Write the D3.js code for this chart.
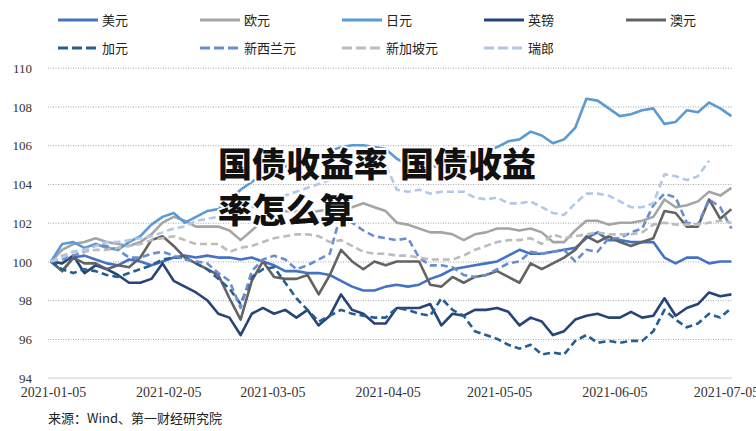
<!DOCTYPE html>
<html><head><meta charset="utf-8">
<script src="https://cdn.jsdelivr.net/npm/d3@7"></script>
<style>html,body{margin:0;padding:0;background:#fff;overflow:hidden}</style>
</head><body>
<svg id="chart" width="756" height="431"></svg>
<script>
const dates = ["2021-01-05","2021-01-08","2021-01-11","2021-01-14","2021-01-17","2021-01-20","2021-01-23","2021-01-26","2021-01-29","2021-02-01","2021-02-04","2021-02-07","2021-02-10","2021-02-13","2021-02-16","2021-02-19","2021-02-22","2021-02-25","2021-02-28","2021-03-03","2021-03-06","2021-03-09","2021-03-12","2021-03-15","2021-03-18","2021-03-21","2021-03-24","2021-03-27","2021-03-30","2021-04-02","2021-04-05","2021-04-08","2021-04-11","2021-04-14","2021-04-17","2021-04-20","2021-04-23","2021-04-26","2021-04-29","2021-05-02","2021-05-05","2021-05-08","2021-05-11","2021-05-14","2021-05-17","2021-05-20","2021-05-23","2021-05-26","2021-05-29","2021-06-01","2021-06-04","2021-06-07","2021-06-10","2021-06-13","2021-06-16","2021-06-19","2021-06-22","2021-06-25","2021-06-28","2021-07-01","2021-07-04","2021-07-07"];

const usd = [100.0,99.5,100.2,100.3,100.1,99.9,99.8,100.1,100.0,99.8, 100.0,100.2,100.3,100.2,100.3,100.2,100.2,100.1,100.2,100.0, 99.8,99.5,99.5,99.4,99.4,99.3,99.0,98.7,98.5,98.5, 98.7,98.8,98.7,98.8,99.1,99.3,99.6,99.7,99.8,99.9, 100.0,100.3,100.6,100.4,100.4,100.5,100.6,100.7,101.2,101.5, 101.1,101.1,101.0,101.0,101.0,100.2,99.9,100.2,100.2,99.9, 100.0,100.0];
const eur = [100.0,100.6,100.9,101.0,101.2,101.0,100.9,100.8,101.0,101.4, 102.0,102.3,102.1,101.8,101.8,101.8,101.6,101.1,101.6,102.1, 102.4,102.6,102.6,102.5,102.6,102.7,102.7,102.8,103.0,102.8, 102.6,102.0,101.9,101.7,101.5,101.5,101.4,101.1,101.4,101.5, 101.7,101.7,101.6,101.7,101.5,101.0,101.0,101.6,102.1,102.1, 101.9,102.0,102.0,102.1,102.3,103.2,102.8,102.9,103.1,103.6, 103.4,103.8];
const jpy = [100.0,100.9,101.0,100.7,100.9,100.7,100.6,101.0,101.3,101.9, 102.3,102.5,102.0,102.3,102.6,102.7,103.2,103.7,104.1,104.5, 104.7,104.9,105.1,105.3,105.4,105.7,105.9,106.0,106.0,105.9, 105.8,105.3,105.0,104.9,104.9,104.9,105.1,105.3,105.5,105.7, 105.9,106.2,106.3,106.7,106.5,106.1,106.3,106.9,108.4,108.3, 107.9,107.5,107.6,107.8,107.9,107.1,107.2,107.8,107.7,108.2, 107.9,107.5];
const gbp = [100.0,99.9,100.3,99.4,99.8,99.6,99.3,98.9,98.9,99.1, 99.9,99.0,98.7,98.4,98.0,97.3,97.1,96.2,97.3,97.6, 97.3,97.5,97.1,97.5,96.7,97.2,98.3,97.5,97.3,96.8, 96.8,97.6,97.6,97.6,97.8,96.7,97.3,97.2,97.5,97.5, 97.6,97.4,96.7,97.1,96.9,96.2,96.4,97.0,97.2,97.3, 97.1,97.1,97.4,97.1,97.2,98.1,97.2,97.6,97.8,98.4, 98.2,98.3];
const aud = [100.0,99.5,100.2,99.9,99.9,99.6,99.8,99.7,100.2,101.1, 101.3,100.8,100.2,99.9,99.6,99.3,98.1,97.0,99.0,100.0, 99.2,99.1,99.1,99.3,98.3,99.3,100.6,100.0,99.6,100.0, 99.8,100.0,100.0,100.0,98.8,98.7,99.2,98.9,99.2,99.3, 99.5,99.2,98.9,99.9,99.6,99.9,100.2,100.6,101.3,101.0, 101.3,101.0,100.8,101.0,101.2,102.6,102.5,101.8,101.8,103.2, 102.2,102.7];
const cad = [100.0,99.6,99.4,99.6,99.5,99.3,99.2,99.4,99.6,99.8, 100.1,100.2,100.2,99.9,99.6,99.1,98.6,97.8,99.2,99.6, 99.7,98.9,98.1,97.5,96.9,97.2,97.5,97.3,97.2,97.1, 97.1,97.6,97.5,97.3,97.2,98.1,97.5,97.2,96.4,96.2, 96.0,95.7,95.5,95.7,95.2,95.3,95.2,95.9,96.2,95.8, 95.9,95.8,95.9,95.9,96.4,97.5,97.0,96.6,96.8,97.3, 97.1,97.6];
const nzd = [100.0,100.1,100.3,100.5,100.9,100.8,100.6,100.2,100.2,100.4, 100.5,100.3,100.1,100.0,99.9,99.4,99.0,97.6,99.5,100.1, 100.3,100.1,99.6,99.8,100.1,100.4,102.5,102.0,101.6,101.3, 101.2,101.1,101.2,100.2,99.8,99.8,99.7,99.3,99.2,99.3, 99.6,99.9,100.0,100.5,100.4,100.5,100.6,100.0,100.6,100.5, 101.2,101.2,101.5,101.7,102.9,103.5,103.3,102.0,101.9,103.2, 102.8,101.7];
const sgd = [100.0,100.3,100.5,100.5,100.6,100.6,100.7,100.8,100.9,101.1, 101.2,101.3,101.1,100.9,100.9,100.9,100.5,100.7,100.8,101.0, 101.2,101.3,101.4,101.4,101.3,101.0,101.1,100.8,100.5,100.4, 100.4,100.3,100.3,100.2,100.1,100.1,100.1,100.3,100.6,100.8, 101.0,101.1,101.1,101.2,100.9,101.4,101.2,101.3,101.4,101.5, 101.4,101.4,101.4,101.5,101.9,102.0,101.9,101.9,101.9,102.0, 102.1,102.0];
const chf = [100.0,100.2,100.5,100.6,100.8,101.0,101.0,101.1,101.2,101.3, 101.5,101.7,101.8,102.1,102.2,102.3,102.4,102.6,102.8,103.0, 103.2,103.4,103.6,103.8,104.0,104.2,104.4,104.6,104.8,104.9, 105.0,103.7,103.6,103.7,103.5,103.6,103.6,103.6,103.3,103.2, 103.3,103.0,103.0,103.1,102.8,102.5,102.4,103.0,103.5,103.5, 103.4,103.1,102.8,102.8,103.0,104.5,104.4,104.2,104.4,105.2, null,null];

const seriesNames = ["美元","欧元","日元","英镑","澳元","加元","新西兰元","新加坡元","瑞郎"];
const seriesValues = [usd, eur, jpy, gbp, aud, cad, nzd, sgd, chf];
const seriesColors = ["#4472c4","#a5a5a5","#5b9bd5","#264478","#636363","#255e91","#698ed0","#bcbcbc","#b4c7e7"];
const seriesDashed = [false,false,false,false,false,true,true,true,true];

const yTicks = [94,96,98,100,102,104,106,108,110];
const xTicks = ["2021-01-05","2021-02-05","2021-03-05","2021-04-05","2021-05-05","2021-06-05","2021-07-05"];
const title1a = "国债收益率", title1b = "国债收益", title2 = "率怎么算";
const sourceText = "来源：Wind、第一财经研究院";

const parse = d3.timeParse("%Y-%m-%d");
const svg = d3.select("#chart");
const x = d3.scaleTime().domain([parse("2021-01-05"), parse("2021-07-07")]).range([51, 731.4]);
const y = d3.scaleLinear().domain([94, 110]).range([377.7, 67.7]);
const gridL = 48, gridR = 732;

// grid
svg.append("g").selectAll("line").data(yTicks.filter(t => t !== 94)).join("line")
  .attr("x1", gridL).attr("x2", gridR)
  .attr("y1", d => y(d) + 0.5).attr("y2", d => y(d) + 0.5)
  .attr("stroke", "#a6a6a6").attr("stroke-width", 1).attr("stroke-dasharray", "1,1.5");
svg.append("line").attr("x1", gridL).attr("x2", gridR)
  .attr("y1", y(94) + 0.5).attr("y2", y(94) + 0.5).attr("stroke", "#d9d9d9").attr("stroke-width", 1.2);

// y axis labels
const yAxis = d3.axisLeft(y).tickValues(yTicks).tickSize(0).tickPadding(0);
const gy = svg.append("g").attr("transform", "translate(32,0)").call(yAxis);
gy.select(".domain").remove();
gy.selectAll("text").attr("font-family", "'Liberation Serif', serif").attr("font-size", 13).attr("fill", "#333").attr("dy", "0.35em");

// x axis labels
const xAxis = d3.axisBottom(x).tickValues(xTicks.map(parse)).tickFormat(d3.timeFormat("%Y-%m-%d")).tickSize(0).tickPadding(0);
const gx = svg.append("g").attr("transform", "translate(2,392)").call(xAxis);
gx.select(".domain").remove();
gx.selectAll("text").attr("font-family", "'Liberation Serif', serif").attr("font-size", 14).attr("fill", "#333").attr("dy", "0.35em");

// lines
const line = d3.line().defined(d => d.v !== null).x(d => x(d.t)).y(d => y(d.v));
const plot = svg.append("g");
seriesValues.forEach((vals, i) => {
  const data = dates.map((s, j) => ({t: parse(s), v: vals[j]}));
  plot.append("path").datum(data).attr("d", line)
    .attr("fill", "none").attr("stroke", seriesColors[i]).attr("stroke-width", 2.6)
    .attr("stroke-linejoin", "round")
    .attr("stroke-dasharray", seriesDashed[i] ? "7,4" : null);
});

// legend
const leg = svg.append("g");
seriesNames.forEach((n, i) => {
  const row = i < 5 ? 0 : 1, col = i < 5 ? i : i - 5;
  const lx = 58 + col * 142, ly = row === 0 ? 20 : 48;
  leg.append("line").attr("x1", lx).attr("x2", lx + (seriesDashed[i] ? 38 : 40)).attr("y1", ly).attr("y2", ly)
    .attr("stroke", seriesColors[i]).attr("stroke-width", 3)
    .attr("stroke-dasharray", seriesDashed[i] ? "10,4" : null);
  leg.append("text").attr("x", lx + 44).attr("y", ly).attr("dy", "0.35em")
    .attr("font-family", "'Noto Sans CJK SC', sans-serif").attr("font-size", 13).attr("fill", "#222").text(n);
});

// source
svg.append("text").attr("x", 48).attr("y", 418).attr("dy", "0.35em")
  .attr("font-family", "'Noto Sans CJK SC', sans-serif").attr("font-size", 13).attr("fill", "#222").text(sourceText);

// overlay title
const tg = svg.append("g").attr("font-family", "'Noto Sans CJK SC', sans-serif").attr("font-weight", 900)
  .attr("font-size", 34).attr("fill", "#111").attr("stroke", "#fff").attr("stroke-width", 4)
  .attr("paint-order", "stroke").attr("stroke-linejoin", "round");
tg.append("text").attr("x", 218).attr("y", 162).attr("dominant-baseline", "central").text(title1a);
tg.append("text").attr("x", 400).attr("y", 162).attr("dominant-baseline", "central").text(title1b);
tg.append("text").attr("x", 218).attr("y", 208).attr("dominant-baseline", "central").text(title2);
</script>
</body></html>
